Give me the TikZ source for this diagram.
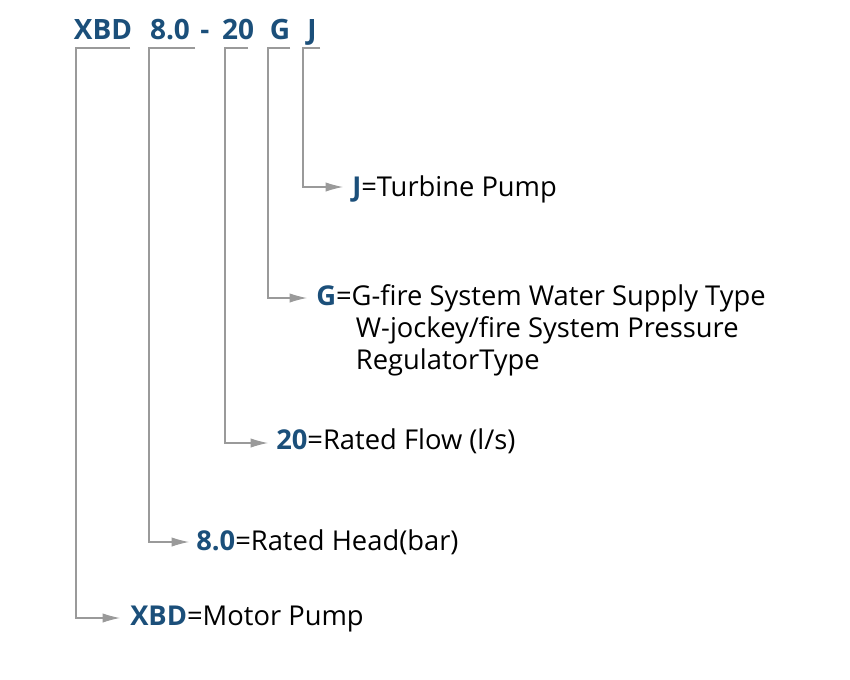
\documentclass[tikz,border=0pt]{standalone}
\usepackage{fontspec}
\setmainfont{Open Sans}
\usetikzlibrary{arrows.meta}
\definecolor{codeblue}{HTML}{1B4F7A}
\definecolor{linegray}{HTML}{9A9A9A}
\tikzset{
    part/.style={font=\fontsize{21}{24}\selectfont\bfseries,
        text=codeblue, inner sep=0pt, anchor=base},
    lead/.style={draw=linegray, line width=0.8pt,
        -{Latex[length=13pt,width=7pt]}},
    meaning/.style={anchor=west, font=\fontsize{20.5}{24}\selectfont,
        inner sep=0pt, align=left},
}
\newcommand{\key}[1]{\textbf{\textcolor{codeblue}{#1}}}
\begin{document}
\begin{tikzpicture}[x=0.75pt,y=-0.75pt]
    \useasboundingbox (0,0) rectangle (850,679);

    % model code
    \node[part] (xbd) at (103,39) {XBD};
    \node[part] (head) at (170,39) {8.0};
    \node[part] (dash) at (205,39) {-};
    \node[part] (flow) at (238,39) {20};
    \node[part] (gtype) at (280,39) {G};
    \node[part] (jtype) at (312,39) {J};

    % meanings
    \node[meaning] (jtxt) at (352,189) {\key{J}=Turbine Pump};
    \node[meaning] (gtxt) at (316,330)
        {\key{G}=G-fire System Water Supply Type\\
         \hspace{1.45em}W-jockey/fire System Pressure\\
         \hspace{1.45em}RegulatorType};
    \node[meaning] (ftxt) at (276,441) {\key{20}=Rated Flow (l/s)};
    \node[meaning] (htxt) at (196,542) {\key{8.0}=Rated Head(bar)};
    \node[meaning] (xtxt) at (130,619) {\key{XBD}=Motor Pump};

    % leads
    \draw[lead] (130,48) -- (76,48) -- (76,618) -- (120,618);
    \draw[lead] (195,48) -- (149,48) -- (149,542) -- (189,542);
    \draw[lead] (248,48) -- (225,48) -- (225,443) -- (268,443);
    \draw[lead] (290,48) -- (268,48) -- (268,298) -- (307,298);
    \draw[lead] (320,48) -- (303,48) -- (303,187) -- (343,187);
\end{tikzpicture}
\end{document}
